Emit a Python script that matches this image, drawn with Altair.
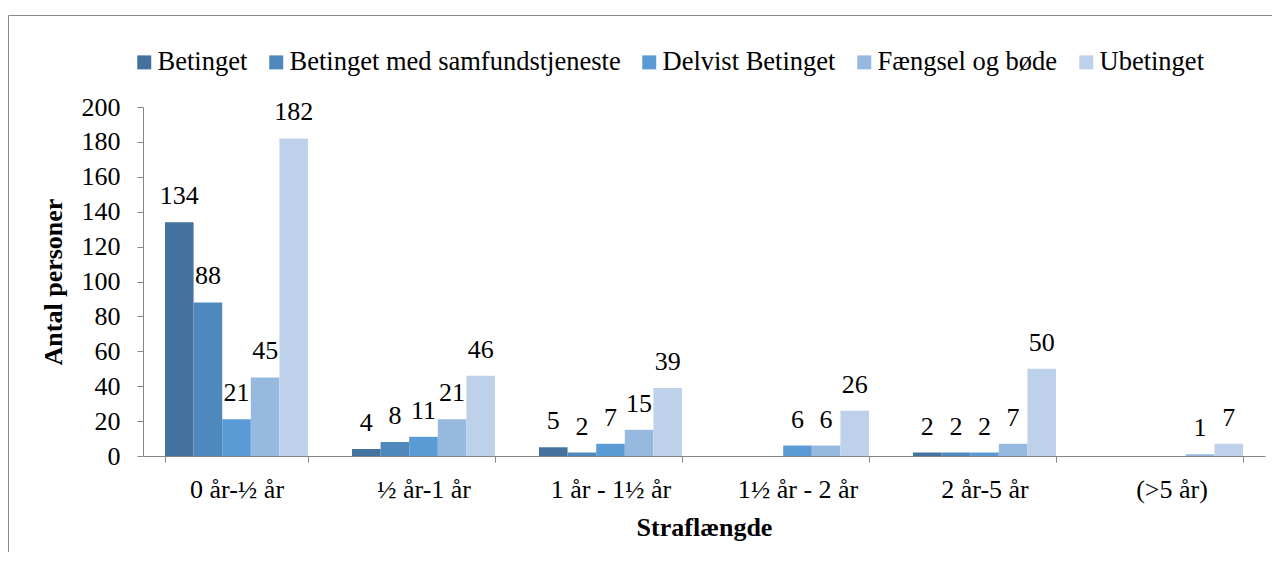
import altair as alt
import pandas as pd

categories = ["0 år-½ år", "½ år-1 år", "1 år - 1½ år", "1½ år - 2 år", "2 år-5 år", "(>5 år)"]
series = ["Betinget", "Betinget med samfundstjeneste", "Delvist Betinget", "Fængsel og bøde", "Ubetinget"]
betinget = [134, 4, 5, None, 2, None]
samfund = [88, 8, 2, None, 2, None]
delvist = [21, 11, 7, 6, 2, None]
faengsel = [45, 21, 15, 6, 7, 1]
ubetinget = [182, 46, 39, 26, 50, 7]
colors = ["#43729E", "#4E88BD", "#5B9BD5", "#97B9E0", "#BDD1EA"]
y_ticks = [0, 20, 40, 60, 80, 100, 120, 140, 160, 180, 200]

rows = []
for s, vals in zip(series, [betinget, samfund, delvist, faengsel, ubetinget]):
    for c, v in zip(categories, vals):
        if v is not None:
            rows.append({"cat": c, "serie": s, "value": v, "label": str(v)})
df = pd.DataFrame(rows)

FONT = "Liberation Serif, DejaVu Serif, serif"
GREY = "#868686"

W, H = 1122, 349
PAD = {"left": 135, "top": 99, "right": 7, "bottom": 96}

x_enc = alt.X(
    "cat:N",
    sort=categories,
    scale=alt.Scale(domain=categories, paddingInner=0.235, paddingOuter=0.1176),
    axis=alt.Axis(
        title="Straflængde",
        labelAngle=0,
        tickBand="extent",
        labelBaseline="alphabetic",
        labelPadding=35,
        labelOverlap=False,
        tickSize=6,
        titleX=W / 2,
        titleY=79,
        titleBaseline="alphabetic",
        labelFont=FONT,
        titleFont=FONT,
        labelFontSize=26,
        titleFontSize=26,
        titleFontWeight="bold",
        labelColor="black",
        titleColor="black",
        domainColor=GREY,
        tickColor=GREY,
    ),
)
xoff = alt.XOffset("serie:N", sort=series, scale=alt.Scale(domain=series, paddingInner=0, paddingOuter=0))
y_enc = alt.Y(
    "value:Q",
    scale=alt.Scale(domain=[0, 200], nice=False),
    axis=alt.Axis(
        values=y_ticks,
        tickCount=11,
        title="Antal personer",
        titleAngle=-90,
        titleX=-82,
        titleY=H / 2,
        titleAlign="center",
        titleBaseline="alphabetic",
        tickSize=6,
        labelPadding=17,
        labelOverlap=False,
        grid=False,
        labelFont=FONT,
        titleFont=FONT,
        labelFontSize=26,
        titleFontSize=26,
        titleFontWeight="bold",
        labelColor="black",
        titleColor="black",
        domainColor=GREY,
        tickColor=GREY,
    ),
)

bars = alt.Chart(df).mark_bar().encode(
    x=x_enc,
    xOffset=xoff,
    y=y_enc,
    color=alt.Color(
        "serie:N",
        sort=series,
        scale=alt.Scale(domain=series, range=colors),
        legend=alt.Legend(
            title=None,
            orient="none",
            direction="horizontal",
            columns=5,
            legendX=-12,
            legendY=-58,
            symbolType="square",
            symbolSize=196,
            symbolStrokeWidth=0,
            labelFont=FONT,
            labelFontSize=26.5,
            labelColor="black",
            labelOffset=0,
            labelLimit=500,
            columnPadding=15,
            padding=0,
        ),
    ),
)

labels = alt.Chart(df).mark_text(
    font=FONT, fontSize=26, baseline="alphabetic", dy=-18, color="black"
).encode(
    x=x_enc,
    xOffset=xoff,
    y=y_enc,
    text="label:N",
)

frame_data = alt.Data(values=[{"k": 1}])
top_line = alt.Chart(frame_data).mark_rule(color="#898989", strokeWidth=1).encode(
    x=alt.value(-PAD["left"] + 0.5), x2=alt.value(W + PAD["right"]),
    y=alt.value(-91.5), y2=alt.value(-91.5),
)
left_line = alt.Chart(frame_data).mark_rule(color="#898989", strokeWidth=1).encode(
    x=alt.value(-PAD["left"] + 0.5), x2=alt.value(-PAD["left"] + 0.5),
    y=alt.value(-91.5), y2=alt.value(H + PAD["bottom"]),
)

chart = alt.layer(top_line, left_line, bars, labels).properties(
    width=W,
    height=H,
    padding=PAD,
    autosize=alt.AutoSizeParams(type="none"),
).configure_view(stroke=None).configure_axis(
    domainWidth=1,
    tickWidth=1,
    grid=False,
)

chart.save("out.html", embed_options={"renderer": "svg", "actions": False})
